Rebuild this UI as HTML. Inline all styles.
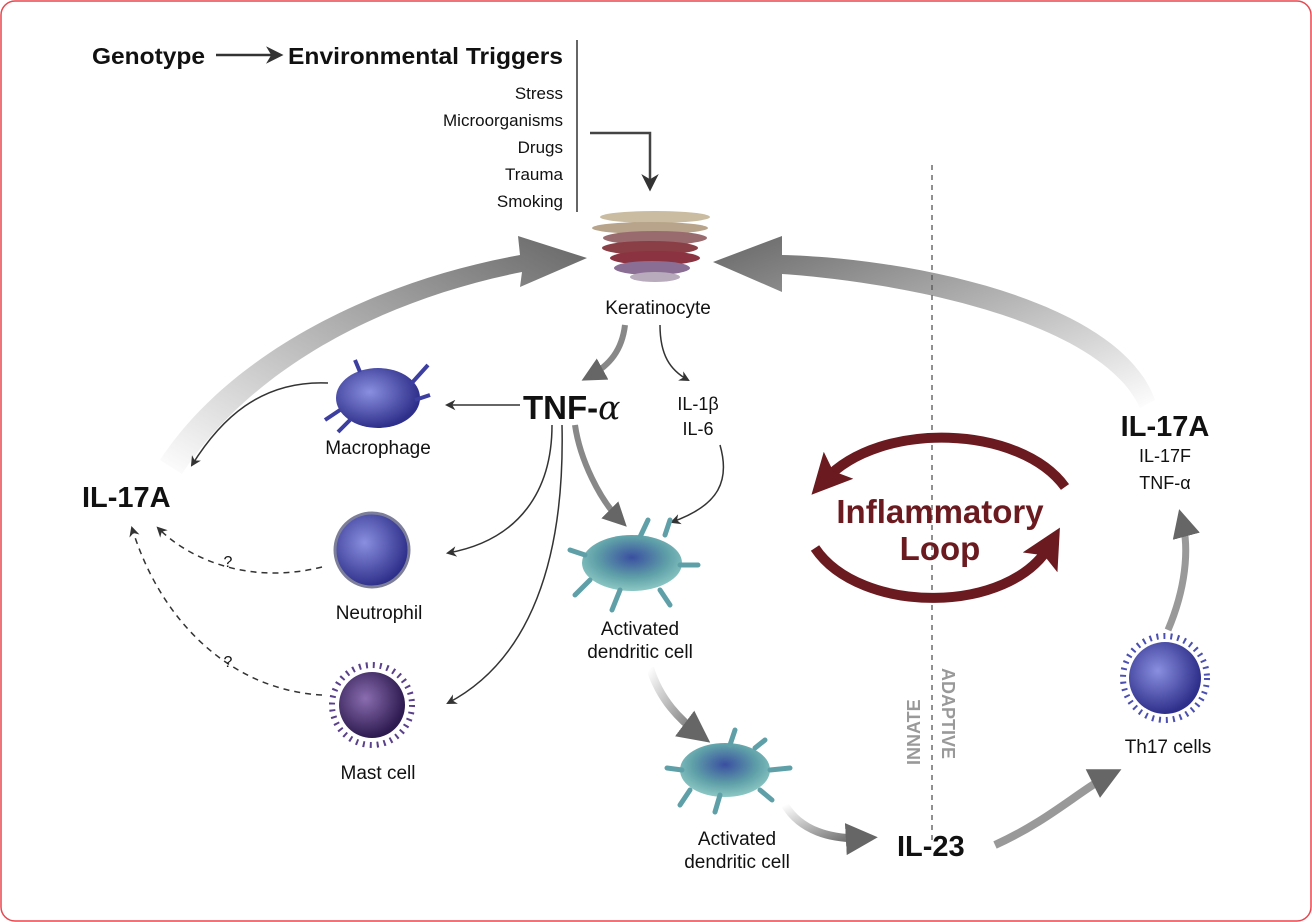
<!DOCTYPE html>
<html><head><meta charset="utf-8"><style>
html,body{margin:0;padding:0;background:#fff}
svg{display:block}
text{font-family:"Liberation Sans",Arial,sans-serif;fill:#111}
.b{font-weight:bold}
</style></head><body>
<svg width="1312" height="922" viewBox="0 0 1312 922" xmlns="http://www.w3.org/2000/svg">
<defs>
<marker id="ah" viewBox="0 0 10 10" refX="8" refY="5" markerWidth="7" markerHeight="7" orient="auto-start-reverse"><path d="M0,0 L10,5 L0,10 L3,5z" fill="#333"/></marker>
<marker id="ahg" viewBox="0 0 10 10" refX="6" refY="5" markerWidth="4" markerHeight="4" orient="auto"><path d="M0,0 L10,5 L0,10z" fill="#666"/></marker>
<marker id="ahr" viewBox="0 0 10 10" refX="5" refY="5" markerWidth="4" markerHeight="4" orient="auto"><path d="M0,0 L10,5 L0,10 L2,5z" fill="#6b1a1f"/></marker>
<linearGradient id="gl" x1="0" y1="1" x2="1" y2="0"><stop offset="0" stop-color="#fff"/><stop offset="1" stop-color="#666"/></linearGradient>
<linearGradient id="gr" x1="1" y1="1" x2="0" y2="0"><stop offset="0" stop-color="#fff"/><stop offset="1" stop-color="#666"/></linearGradient>
<linearGradient id="gd" x1="0" y1="0" x2="1" y2="1"><stop offset="0" stop-color="#fff"/><stop offset="1" stop-color="#666"/></linearGradient>
<radialGradient id="cb" cx="0.4" cy="0.4" r="0.6"><stop offset="0" stop-color="#8a8fe0"/><stop offset="1" stop-color="#2e2f8a"/></radialGradient>
<radialGradient id="cm" cx="0.4" cy="0.4" r="0.6"><stop offset="0" stop-color="#8a6db0"/><stop offset="1" stop-color="#2d1a4f"/></radialGradient>
<radialGradient id="cd" cx="0.5" cy="0.4" r="0.6"><stop offset="0" stop-color="#3a4fa0"/><stop offset="0.6" stop-color="#5fa0a8"/><stop offset="1" stop-color="#8cc8c4"/></radialGradient>
</defs>
<rect x="1" y="1" width="1310" height="920" rx="14" fill="#fff" stroke="#e8474f" stroke-width="1.5"/>

<!-- top -->
<text x="92" y="64" class="b" font-size="23" textLength="113" lengthAdjust="spacingAndGlyphs">Genotype</text>
<line x1="216" y1="55" x2="280" y2="55" stroke="#333" stroke-width="2.5" marker-end="url(#ah)"/>
<text x="288" y="64" class="b" font-size="23" textLength="275" lengthAdjust="spacingAndGlyphs">Environmental Triggers</text>
<line x1="577" y1="40" x2="577" y2="212" stroke="#333" stroke-width="1.5"/>
<g font-size="17" text-anchor="end">
<text x="563" y="99">Stress</text><text x="563" y="126">Microorganisms</text><text x="563" y="153">Drugs</text><text x="563" y="180">Trauma</text><text x="563" y="207">Smoking</text>
</g>
<path d="M590,133 H650 V188" fill="none" stroke="#444" stroke-width="2.5" marker-end="url(#ah)"/>

<!-- keratinocyte -->
<g>
<ellipse cx="655" cy="217" rx="55" ry="6" fill="#c9bca0"/>
<ellipse cx="650" cy="228" rx="58" ry="6" fill="#b7a48a"/>
<ellipse cx="655" cy="238" rx="52" ry="7" fill="#9a6b6e"/>
<ellipse cx="650" cy="248" rx="48" ry="7" fill="#8a3e45"/>
<ellipse cx="655" cy="258" rx="45" ry="7" fill="#8b3340"/>
<ellipse cx="652" cy="268" rx="38" ry="7" fill="#8a6e94"/>
<ellipse cx="655" cy="277" rx="25" ry="5" fill="#b8acbc"/>
</g>
<text x="658" y="314" font-size="19" text-anchor="middle">Keratinocyte</text>

<!-- big gray arrows -->
<path d="M182,474 C250,370 380,300 522,272 L520,287 L587,258 L518,236 L520,255 C370,282 228,356 160,460z" fill="url(#gl)"/>
<path d="M1140,408 C1100,320 900,282 782,274 L782,292 L713,262 L782,236 L782,255 C910,258 1120,300 1155,400z" fill="url(#gr)"/>

<!-- TNF -->
<path d="M625,325 C622,350 610,365 590,376" fill="none" stroke="#888" stroke-width="6" marker-end="url(#ahg)"/>
<path d="M660,325 C660,355 670,370 688,380" fill="none" stroke="#333" stroke-width="1.5" marker-end="url(#ah)"/>
<text x="523" y="419" class="b" font-size="33">TNF-<tspan font-weight="normal" font-family="DejaVu Serif, serif" font-style="italic">α</tspan></text>
<line x1="520" y1="405" x2="447" y2="405" stroke="#333" stroke-width="1.5" marker-end="url(#ah)"/>
<text x="698" y="410" font-size="18" text-anchor="middle">IL-1β</text>
<text x="698" y="435" font-size="18" text-anchor="middle">IL-6</text>
<path d="M720,445 C730,480 720,505 672,522" fill="none" stroke="#333" stroke-width="1.5" marker-end="url(#ah)"/>
<path d="M575,425 C580,460 600,500 620,520" fill="none" stroke="#888" stroke-width="6" marker-end="url(#ahg)"/>
<path d="M552,425 C552,490 520,540 448,553" fill="none" stroke="#333" stroke-width="1.5" marker-end="url(#ah)"/>
<path d="M562,425 C565,560 530,660 448,703" fill="none" stroke="#333" stroke-width="1.5" marker-end="url(#ah)"/>

<!-- macrophage -->
<ellipse cx="378" cy="398" rx="42" ry="30" fill="url(#cb)"/>
<path d="M340,410 L325,420 M350,420 L338,432 M410,385 L428,365 M415,400 L430,395 M360,372 L355,360" stroke="#3c3ea0" stroke-width="4"/>
<text x="378" y="454" font-size="19" text-anchor="middle">Macrophage</text>
<path d="M328,383 C260,380 220,420 192,465" fill="none" stroke="#333" stroke-width="1.5" marker-end="url(#ah)"/>

<text x="82" y="507" class="b" font-size="29">IL-17A</text>

<!-- neutrophil -->
<circle cx="372" cy="550" r="37" fill="url(#cb)" stroke="#7d7f9a" stroke-width="3"/>
<text x="379" y="619" font-size="19" text-anchor="middle">Neutrophil</text>
<path d="M322,567 C250,585 190,560 158,528" fill="none" stroke="#333" stroke-width="1.5" stroke-dasharray="6,5" marker-end="url(#ah)"/>
<text x="228" y="567" font-size="16" text-anchor="middle">?</text>

<!-- mast cell -->
<circle cx="372" cy="705" r="33" fill="url(#cm)"/>
<circle cx="372" cy="705" r="40" fill="none" stroke="#5a3f8a" stroke-width="6" stroke-dasharray="2,5"/>
<text x="378" y="779" font-size="19" text-anchor="middle">Mast cell</text>
<path d="M322,695 C230,690 160,620 132,528" fill="none" stroke="#333" stroke-width="1.5" stroke-dasharray="6,5" marker-end="url(#ah)"/>
<text x="228" y="667" font-size="16" text-anchor="middle">?</text>

<!-- dendritic 1 -->
<ellipse cx="632" cy="563" rx="50" ry="28" fill="url(#cd)"/>
<path d="M585,555 L570,550 M590,580 L575,595 M620,590 L612,610 M660,590 L670,605 M680,565 L698,565 M665,535 L670,520 M640,537 L648,520" stroke="#5fa0a8" stroke-width="5" stroke-linecap="round"/>
<text x="640" y="635" font-size="19" text-anchor="middle">Activated</text>
<text x="640" y="658" font-size="19" text-anchor="middle">dendritic cell</text>
<path d="M650,668 C660,700 680,720 700,735" fill="none" stroke="url(#gd)" stroke-width="8" marker-end="url(#ahg)"/>

<!-- dendritic 2 -->
<ellipse cx="725" cy="770" rx="45" ry="27" fill="url(#cd)"/>
<path d="M682,770 L667,768 M690,790 L680,805 M720,795 L715,812 M760,790 L772,800 M770,770 L790,768 M755,748 L765,740 M730,745 L735,730" stroke="#5fa0a8" stroke-width="5" stroke-linecap="round"/>
<text x="737" y="845" font-size="19" text-anchor="middle">Activated</text>
<text x="737" y="868" font-size="19" text-anchor="middle">dendritic cell</text>
<path d="M785,805 C800,830 830,840 865,838" fill="none" stroke="url(#gd)" stroke-width="8" marker-end="url(#ahg)"/>

<text x="897" y="856" class="b" font-size="29">IL-23</text>

<!-- divider -->
<line x1="932" y1="165" x2="932" y2="840" stroke="#555" stroke-width="1.3" stroke-dasharray="5,5"/>
<text transform="translate(920,765) rotate(-90)" class="b" font-size="18" style="fill:#999">INNATE</text>
<text transform="translate(942,668) rotate(90)" class="b" font-size="18" style="fill:#999">ADAPTIVE</text>

<!-- loop -->
<path d="M1065,487 C1020,425 880,420 825,480" fill="none" stroke="#6b1a1f" stroke-width="10" marker-end="url(#ahr)"/>
<path d="M815,548 C860,615 1010,615 1050,545" fill="none" stroke="#6b1a1f" stroke-width="10" marker-end="url(#ahr)"/>
<text x="940" y="523" class="b" font-size="33" text-anchor="middle" style="fill:#6b1a1f">Inflammatory</text>
<text x="940" y="560" class="b" font-size="33" text-anchor="middle" style="fill:#6b1a1f">Loop</text>

<!-- Th17 -->
<path d="M995,845 C1050,820 1080,790 1110,775" fill="none" stroke="#999" stroke-width="8" marker-end="url(#ahg)"/>
<circle cx="1165" cy="678" r="36" fill="url(#cb)"/>
<circle cx="1165" cy="678" r="42" fill="none" stroke="#4a4fb0" stroke-width="6" stroke-dasharray="2,5"/>
<text x="1168" y="753" font-size="19" text-anchor="middle">Th17 cells</text>
<path d="M1168,630 C1185,590 1190,550 1182,520" fill="none" stroke="#999" stroke-width="7" marker-end="url(#ahg)"/>
<text x="1165" y="436" class="b" font-size="29" text-anchor="middle">IL-17A</text>
<text x="1165" y="462" font-size="18" text-anchor="middle">IL-17F</text>
<text x="1165" y="489" font-size="18" text-anchor="middle">TNF-α</text>
</svg>
</body></html>
